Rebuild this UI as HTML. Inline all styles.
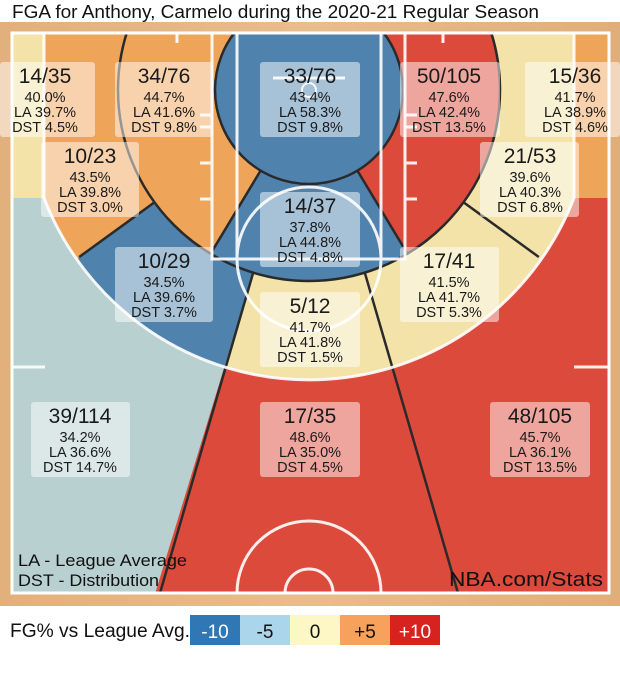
<!DOCTYPE html>
<html><head><meta charset="utf-8"><style>
html,body{margin:0;padding:0;background:#fff;width:620px;height:690px;overflow:hidden;}
svg{display:block;font-family:"Liberation Sans",Arial,sans-serif;overflow:hidden;}
</style></head><body>
<svg width="620" height="690" viewBox="0 0 620 690" xmlns="http://www.w3.org/2000/svg">
<defs>
<clipPath id="court"><rect x="12" y="33" width="597" height="560"/></clipPath>
<clipPath id="in3"><path d="M44 33 L574 33 L574 198 L574 198 A284 284 0 0 1 44 198 Z"/></clipPath>
<clipPath id="c16"><circle cx="309" cy="90" r="191"/></clipPath>
<linearGradient id="wood" x1="0" x2="1" y1="0" y2="0">
<stop offset="0" stop-color="#e2b07c"/><stop offset="0.5" stop-color="#e8bd8c"/><stop offset="1" stop-color="#e0ae7a"/>
</linearGradient>
</defs>
<rect width="620" height="690" fill="#fff"/>
<rect x="0" y="22" width="620" height="584" fill="url(#wood)"/>
<g clip-path="url(#court)">
  <rect x="12" y="33" width="597" height="560" fill="#dc4a3b"/>
  <polygon points="309,90 140,643 12,643 12,33 309,33" fill="#b9d0d1"/>
  <rect x="12" y="33" width="32" height="165" fill="#f3e3a9"/>
  <rect x="574" y="33" width="35" height="165" fill="#eea459"/>
  <g clip-path="url(#in3)">
    <rect x="12" y="33" width="597" height="560" fill="#f3e3a9"/>
    <polygon points="309,90 140,643 12,643 12,306" fill="#4f82ac"/>
    <polygon points="309,90 12,306 12,33 309,33" fill="#eea459"/>
  </g>
  <g clip-path="url(#c16)">
    <rect x="12" y="33" width="597" height="560" fill="#4f82ac"/>
    <polygon points="309,90 12,584 12,33 309,33" fill="#eea459"/>
    <polygon points="309,90 606,584 609,584 609,33 309,33" fill="#dc4a3b"/>
  </g>
  <circle cx="309" cy="90" r="94" fill="#4f82ac"/>
  <g stroke="#2a2a2a" stroke-width="2.5" fill="none">
    <circle cx="309" cy="90" r="94"/>
    <circle cx="309" cy="90" r="191"/>
    <line x1="260.6" y1="170.6" x2="210.6" y2="253.7"/>
    <line x1="357.4" y1="170.6" x2="407.4" y2="253.7"/>
    <line x1="154.5" y1="202.3" x2="79.2" y2="257"/>
    <line x1="463.5" y1="202.3" x2="538.8" y2="257"/>
    <line x1="253.2" y1="272.7" x2="160" y2="593"/>
    <line x1="364.8" y1="272.7" x2="458" y2="593"/>
  </g>
  <g stroke="#fff" stroke-width="3" fill="none" opacity="0.9">
    <path d="M44 33 L44 198 A284 284 0 0 0 574 198 L574 33"/>
    <rect x="212" y="33" width="193" height="226"/>
    <rect x="237" y="33" width="144" height="226"/>
    <circle cx="309" cy="259" r="72"/>
    <line x1="273" y1="78" x2="345" y2="78"/>
    <circle cx="309" cy="90" r="7" stroke-width="2"/>
    <line x1="177" y1="33" x2="177" y2="43"/>
    <line x1="443" y1="33" x2="443" y2="43"/>
    <line x1="200" y1="115" x2="212" y2="115"/><line x1="200" y1="127" x2="212" y2="127"/>
    <line x1="200" y1="163" x2="212" y2="163"/><line x1="200" y1="199" x2="212" y2="199"/>
    <line x1="405" y1="115" x2="417" y2="115"/><line x1="405" y1="127" x2="417" y2="127"/>
    <line x1="405" y1="163" x2="417" y2="163"/><line x1="405" y1="199" x2="417" y2="199"/>
    <line x1="12" y1="367" x2="45" y2="367"/><line x1="574" y1="367" x2="609" y2="367"/>
    <circle cx="309" cy="593" r="72"/>
    <circle cx="309" cy="593" r="24"/>
  </g>
</g>
<rect x="12" y="33" width="597" height="560" fill="none" stroke="#fff" stroke-width="3"/>

<text x="12" y="18" font-size="18" fill="#111" textLength="527" lengthAdjust="spacingAndGlyphs">FGA for Anthony, Carmelo during the 2020-21 Regular Season</text>

<g fill="#fff" fill-opacity="0.5">
  <rect x="0" y="62" width="95" height="75" rx="3"/>
  <rect x="115" y="62" width="98" height="75" rx="3"/>
  <rect x="260" y="62" width="100" height="75" rx="3"/>
  <rect x="400" y="62" width="100" height="75" rx="3"/>
  <rect x="525" y="62" width="95" height="75" rx="3"/>
  <rect x="41" y="142" width="98" height="75" rx="3"/>
  <rect x="480" y="142" width="99" height="75" rx="3"/>
  <rect x="260" y="192" width="100" height="75" rx="3"/>
  <rect x="115" y="247" width="98" height="75" rx="3"/>
  <rect x="400" y="247" width="99" height="75" rx="3"/>
  <rect x="260" y="292" width="100" height="75" rx="3"/>
  <rect x="31" y="402" width="99" height="75" rx="3"/>
  <rect x="260" y="402" width="100" height="75" rx="3"/>
  <rect x="490" y="402" width="100" height="75" rx="3"/>
</g>
<g fill="#1a1a1a" text-anchor="middle">
<g font-size="21">
<text x="45" y="83">14/35</text><text x="164" y="83">34/76</text><text x="310" y="83">33/76</text><text x="449" y="83">50/105</text><text x="575" y="83">15/36</text>
<text x="90" y="163">10/23</text><text x="530" y="163">21/53</text><text x="310" y="213">14/37</text>
<text x="164" y="268">10/29</text><text x="449" y="268">17/41</text><text x="310" y="313">5/12</text>
<text x="80" y="423">39/114</text><text x="310" y="423">17/35</text><text x="540" y="423">48/105</text>
</g>
<g font-size="14.5">
<text x="45" y="102">40.0%</text><text x="45" y="117">LA 39.7%</text><text x="45" y="132">DST 4.5%</text>
<text x="164" y="102">44.7%</text><text x="164" y="117">LA 41.6%</text><text x="164" y="132">DST 9.8%</text>
<text x="310" y="102">43.4%</text><text x="310" y="117">LA 58.3%</text><text x="310" y="132">DST 9.8%</text>
<text x="449" y="102">47.6%</text><text x="449" y="117">LA 42.4%</text><text x="449" y="132">DST 13.5%</text>
<text x="575" y="102">41.7%</text><text x="575" y="117">LA 38.9%</text><text x="575" y="132">DST 4.6%</text>
<text x="90" y="182">43.5%</text><text x="90" y="197">LA 39.8%</text><text x="90" y="212">DST 3.0%</text>
<text x="530" y="182">39.6%</text><text x="530" y="197">LA 40.3%</text><text x="530" y="212">DST 6.8%</text>
<text x="310" y="232">37.8%</text><text x="310" y="247">LA 44.8%</text><text x="310" y="262">DST 4.8%</text>
<text x="164" y="287">34.5%</text><text x="164" y="302">LA 39.6%</text><text x="164" y="317">DST 3.7%</text>
<text x="449" y="287">41.5%</text><text x="449" y="302">LA 41.7%</text><text x="449" y="317">DST 5.3%</text>
<text x="310" y="332">41.7%</text><text x="310" y="347">LA 41.8%</text><text x="310" y="362">DST 1.5%</text>
<text x="80" y="442">34.2%</text><text x="80" y="457">LA 36.6%</text><text x="80" y="472">DST 14.7%</text>
<text x="310" y="442">48.6%</text><text x="310" y="457">LA 35.0%</text><text x="310" y="472">DST 4.5%</text>
<text x="540" y="442">45.7%</text><text x="540" y="457">LA 36.1%</text><text x="540" y="472">DST 13.5%</text>
</g>
</g>

<text x="18" y="566" font-size="17" fill="#111" textLength="169" lengthAdjust="spacingAndGlyphs">LA - League Average</text>
<text x="18" y="586" font-size="17" fill="#111" textLength="141" lengthAdjust="spacingAndGlyphs">DST - Distribution</text>
<text x="449" y="586" font-size="20" fill="#111" textLength="154" lengthAdjust="spacingAndGlyphs">NBA.com/Stats</text>

<text x="10" y="637" font-size="19" fill="#111" textLength="180" lengthAdjust="spacingAndGlyphs">FG% vs League Avg.</text>
<rect x="190" y="615" width="50" height="30" fill="#2f78b5"/>
<rect x="240" y="615" width="50" height="30" fill="#abd5ea"/>
<rect x="290" y="615" width="50" height="30" fill="#fdf7c5"/>
<rect x="340" y="615" width="50" height="30" fill="#f6a25c"/>
<rect x="390" y="615" width="50" height="30" fill="#d7231f"/>
<g font-size="19" text-anchor="middle">
<text x="215" y="638" fill="#fff">-10</text>
<text x="265" y="638" fill="#111">-5</text>
<text x="315" y="638" fill="#111">0</text>
<text x="365" y="638" fill="#111">+5</text>
<text x="415" y="638" fill="#fff">+10</text>
</g>
</svg>
</body></html>
